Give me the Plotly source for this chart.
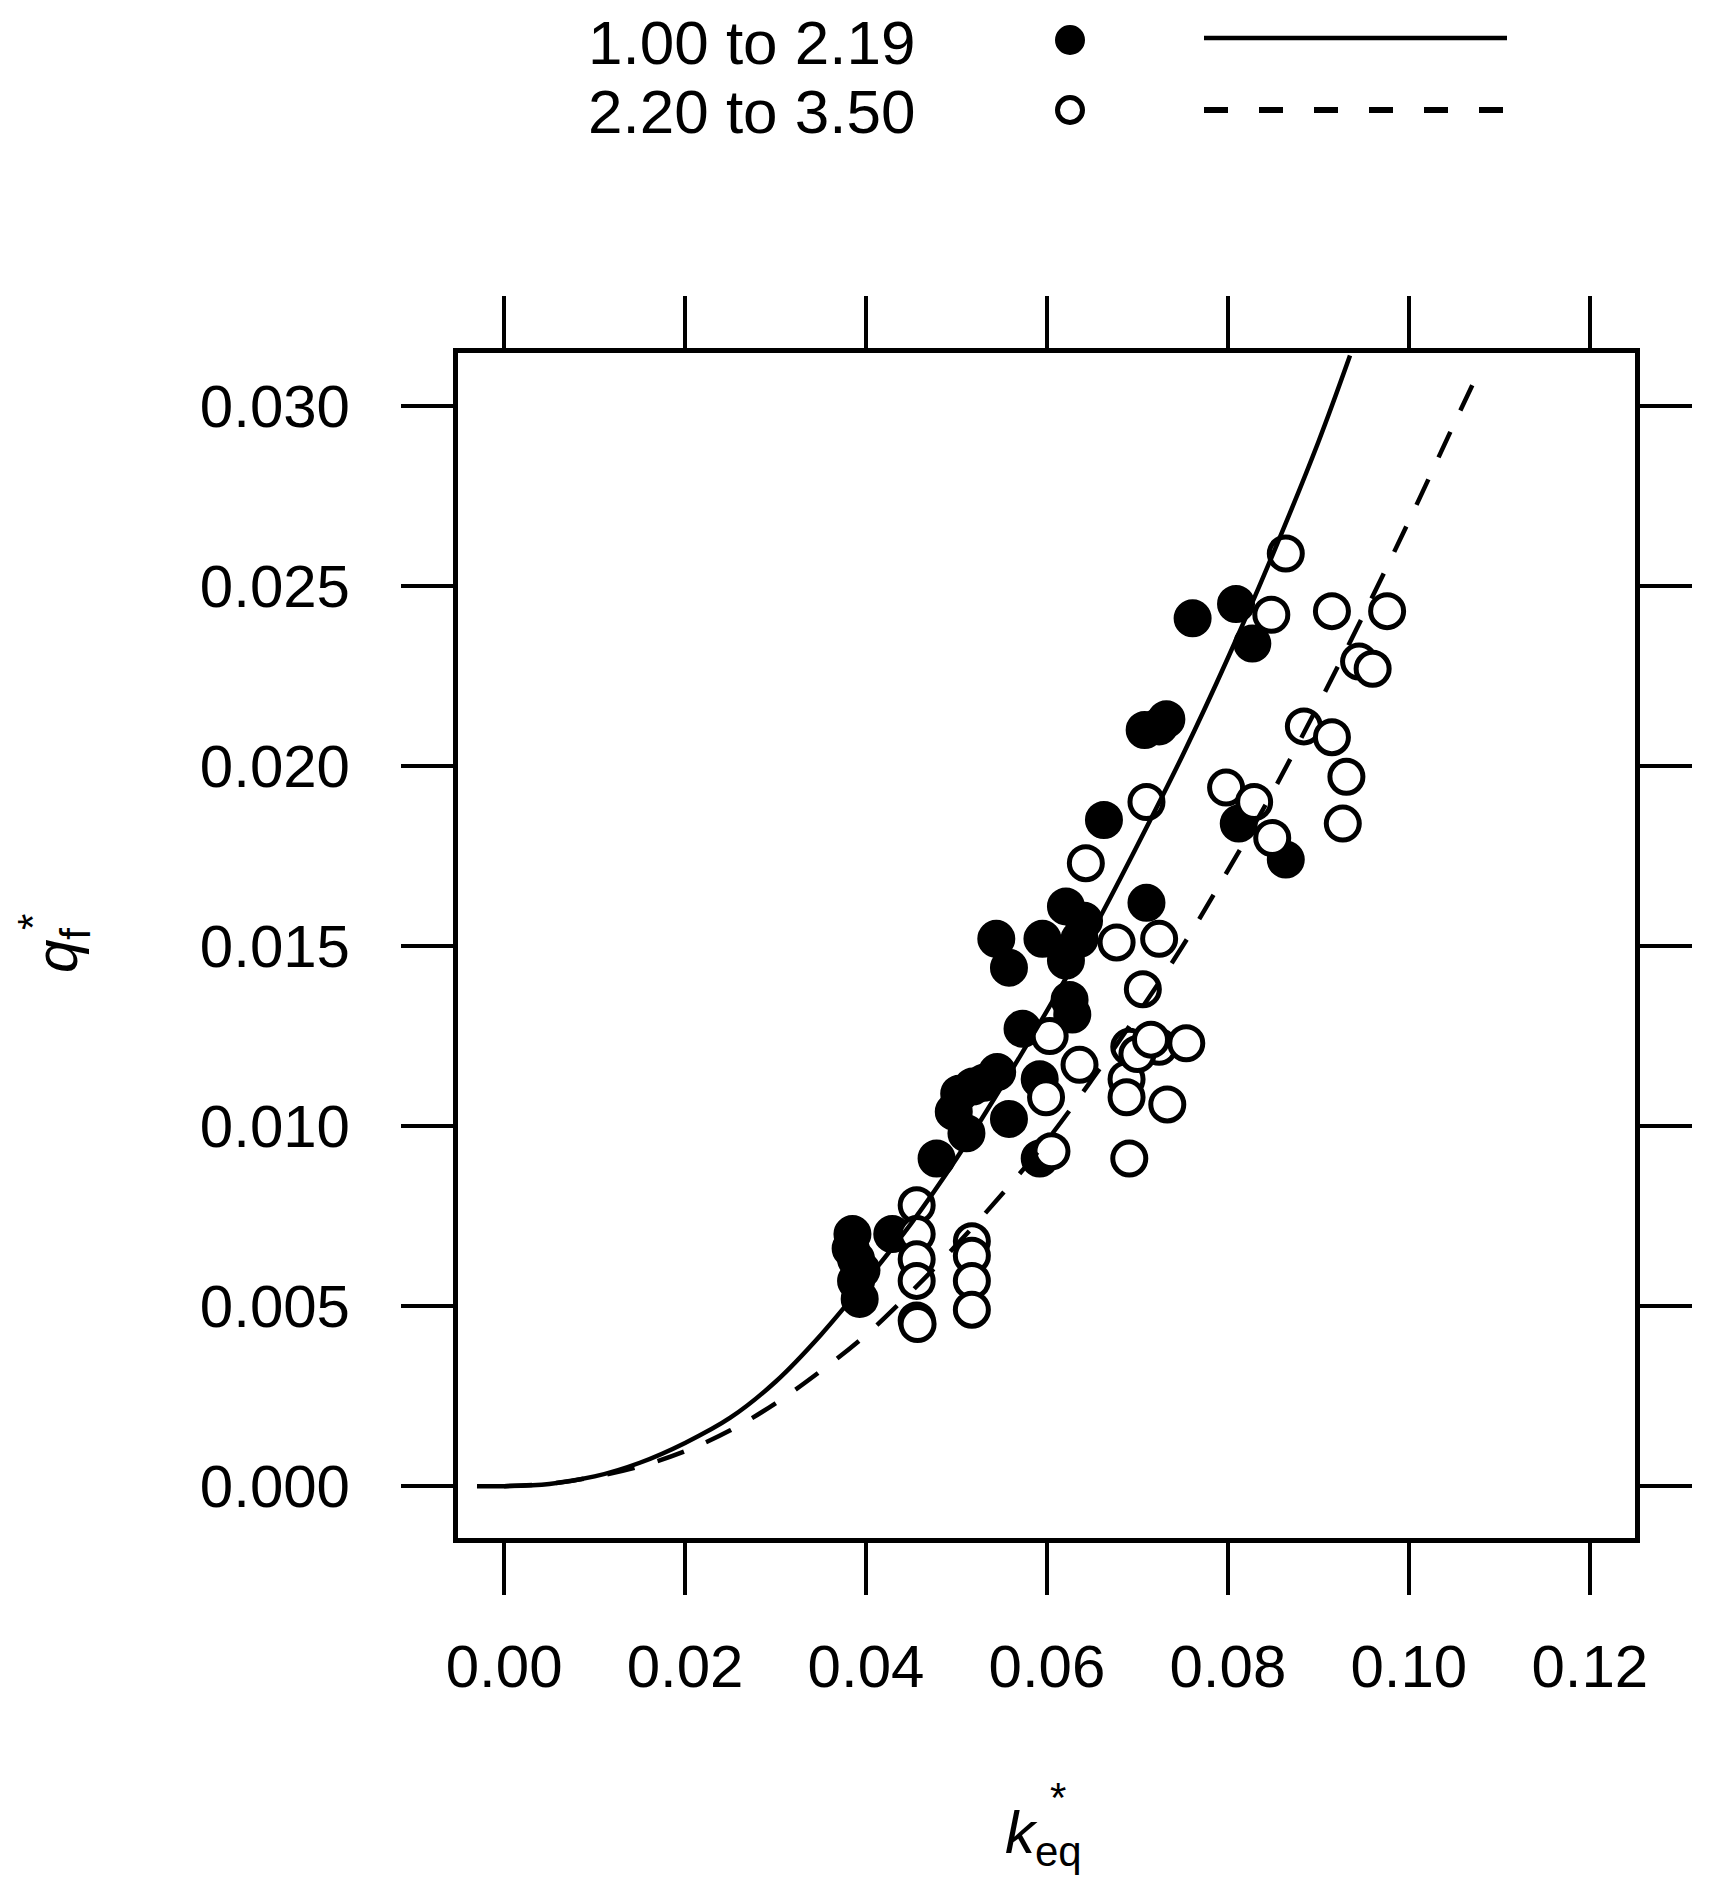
import plotly.graph_objects as go

# ---------------- data ----------------
filled_k = [0.0383, 0.0385, 0.0389, 0.0389, 0.0393, 0.0395, 0.0429, 0.0478, 0.0497, 0.0503,
            0.0511, 0.0518, 0.0530, 0.0545, 0.0558, 0.0573, 0.0544, 0.0558, 0.0595, 0.0621,
            0.0641, 0.0621, 0.0625, 0.0628, 0.0636, 0.0592, 0.0592, 0.0663, 0.0710, 0.0708,
            0.0724, 0.0732, 0.0761, 0.0809, 0.0827, 0.0812, 0.0864]
filled_q = [0.0066, 0.0070, 0.0063, 0.0057, 0.0052, 0.0060, 0.0070, 0.0091, 0.0104, 0.0109,
            0.0098, 0.0111, 0.0112, 0.0115, 0.0102, 0.0127, 0.0152, 0.0144, 0.0152, 0.0161,
            0.0157, 0.0146, 0.0135, 0.0131, 0.0152, 0.0113, 0.0091, 0.0185, 0.0162, 0.0210,
            0.0211, 0.0213, 0.0241, 0.0245, 0.0234, 0.0184, 0.0174]

open_k = [0.0456, 0.0456, 0.0456, 0.0456, 0.0456, 0.0457, 0.0517, 0.0517, 0.0517, 0.0517,
          0.0603, 0.0599, 0.0605, 0.0636, 0.0643, 0.0677, 0.0724, 0.0706, 0.0710, 0.0691,
          0.0724, 0.0754, 0.0688, 0.0688, 0.0733, 0.0691, 0.0700, 0.0715, 0.0798, 0.0829,
          0.0849, 0.0864, 0.0848, 0.0915, 0.0976, 0.0945, 0.0960, 0.0884, 0.0915, 0.0931,
          0.0927]
open_q = [0.0078, 0.0070, 0.0063, 0.0057, 0.0046, 0.0045, 0.0068, 0.0064, 0.0057, 0.0049,
          0.0125, 0.0108, 0.0093, 0.0117, 0.0173, 0.0151, 0.0152, 0.0138, 0.0190, 0.0122,
          0.0122, 0.0123, 0.0113, 0.0108, 0.0106, 0.0091, 0.0120, 0.0124, 0.0194, 0.0190,
          0.0180, 0.0259, 0.0242, 0.0243, 0.0243, 0.0229, 0.0227, 0.0211, 0.0208, 0.0197,
          0.0184]

# fitted curves
solid_k = [-0.003, 0.000, 0.005, 0.010, 0.015, 0.020, 0.025, 0.030, 0.035, 0.040, 0.045,
           0.050, 0.055, 0.060, 0.065, 0.070, 0.075, 0.080, 0.085, 0.090, 0.0935]
solid_q = [0.0000, 0.0000, 0.00006, 0.00027, 0.00065, 0.0012, 0.0019, 0.0029, 0.0042, 0.0057,
           0.0073, 0.0091, 0.0111, 0.0132, 0.0154, 0.0178, 0.0203, 0.0230, 0.0259, 0.0290,
           0.0314]
dashed_k = [0.000, 0.005, 0.010, 0.015, 0.020, 0.025, 0.030, 0.035, 0.040, 0.045, 0.050,
            0.055, 0.060, 0.065, 0.070, 0.075, 0.080, 0.085, 0.090, 0.095, 0.100, 0.105,
            0.108]
dashed_q = [0.0000, 0.00007, 0.00026, 0.00055, 0.00097, 0.00155, 0.0023, 0.0032, 0.0042,
            0.0054, 0.0067, 0.0081, 0.0096, 0.0113, 0.0131, 0.0150, 0.0171, 0.0193, 0.0217,
            0.0242, 0.0268, 0.0295, 0.0311]

legend_labels = ["1.00 to 2.19", "2.20 to 3.50"]

x_ticks = [0.00, 0.02, 0.04, 0.06, 0.08, 0.10, 0.12]
x_tick_text = ["0.00", "0.02", "0.04", "0.06", "0.08", "0.10", "0.12"]
y_ticks = [0.000, 0.005, 0.010, 0.015, 0.020, 0.025, 0.030]
y_tick_text = ["0.000", "0.005", "0.010", "0.015", "0.020", "0.025", "0.030"]

# ---------------- layout geometry ----------------
# the page body adds an 8 px margin, so the figure is drawn 8 px in from the corner
OFF = 8
W, H = 1716 - 2 * OFF, 1902 - 2 * OFF
L = 458 - OFF                 # plot area left (screen 458)
T = 353 - OFF                 # plot area top (screen 353)
R = W - (1635 - OFF)          # plot area right (screen 1635)
B = H - (1538 - OFF)          # plot area bottom (screen 1538)
PW, PH = W - L - R, H - T - B


def px(x):  # screen x -> paper
    return (x - OFF - L) / PW


def py(y):  # screen y -> paper
    return (H - B - (y - OFF)) / PH


FONT = "Liberation Sans, Arial, sans-serif"

fig = go.Figure()
fig.add_trace(go.Scatter(
    x=filled_k, y=filled_q, mode="markers", showlegend=False,
    marker=dict(symbol="circle", size=36, color="black", line=dict(color="black", width=2))))
fig.add_trace(go.Scatter(
    x=open_k, y=open_q, mode="markers", showlegend=False,
    marker=dict(symbol="circle", size=33, color="white", line=dict(color="black", width=5))))
fig.add_trace(go.Scatter(
    x=solid_k, y=solid_q, mode="lines", showlegend=False,
    line=dict(color="black", width=4.5, shape="spline")))
fig.add_trace(go.Scatter(
    x=dashed_k, y=dashed_q, mode="lines", showlegend=False,
    line=dict(color="black", width=4.5, dash="28px,24px", shape="spline")))

axis_common = dict(
    showgrid=False, zeroline=False, showline=True, linewidth=5, linecolor="black",
    mirror="ticks", ticks="outside", ticklen=52, tickwidth=4, tickcolor="black",
    tickfont=dict(family=FONT, size=60, color="black"),
)
fig.update_xaxes(range=[-0.0051, 0.125], tickvals=x_ticks, ticktext=x_tick_text,
                 ticklabelstandoff=20, **axis_common)
fig.update_yaxes(range=[-0.00144, 0.03147], tickvals=y_ticks, ticktext=y_tick_text,
                 ticklabelstandoff=39, **axis_common)

annotations = [
    # axis titles
    dict(text="<i>k</i><sub>eq</sub>", x=px(1043), y=py(1837), xref="paper", yref="paper",
         showarrow=False, xanchor="center", yanchor="middle",
         font=dict(family=FONT, size=60, color="black")),
    dict(text="*", x=px(1058), y=py(1797), xref="paper", yref="paper",
         showarrow=False, xanchor="center", yanchor="middle",
         font=dict(family=FONT, size=42, color="black")),
    dict(text="<i>q</i><sub>f</sub>", x=px(61), y=py(951), xref="paper", yref="paper",
         showarrow=False, xanchor="center", yanchor="middle", textangle=-90,
         font=dict(family=FONT, size=60, color="black")),
    dict(text="*", x=px(32), y=py(922), xref="paper", yref="paper",
         showarrow=False, xanchor="center", yanchor="middle", textangle=-90,
         font=dict(family=FONT, size=42, color="black")),
]
# legend text
for lab, yy in zip(legend_labels, [42, 112]):
    annotations.append(dict(text=lab, x=px(918), y=py(yy), xref="paper", yref="paper",
                            showarrow=False, xanchor="right", yanchor="middle",
                            font=dict(family=FONT, size=62, color="black")))

shapes = [
    # legend markers
    dict(type="circle", xref="paper", yref="paper", xsizemode="pixel", ysizemode="pixel",
         xanchor=px(1070), yanchor=py(40), x0=-14, x1=14, y0=-14, y1=14,
         fillcolor="black", line=dict(color="black", width=2)),
    dict(type="circle", xref="paper", yref="paper", xsizemode="pixel", ysizemode="pixel",
         xanchor=px(1070), yanchor=py(110), x0=-12.5, x1=12.5, y0=-12.5, y1=12.5,
         fillcolor="white", line=dict(color="black", width=5)),
    # legend lines
    dict(type="line", xref="paper", yref="paper", x0=px(1204), x1=px(1507),
         y0=py(38), y1=py(38), line=dict(color="black", width=4.5)),
    dict(type="line", xref="paper", yref="paper", x0=px(1204), x1=px(1504),
         y0=py(110), y1=py(110), line=dict(color="black", width=6, dash="24px,31px")),
]

fig.update_layout(
    width=W, height=H,
    margin=dict(l=L, r=R, t=T, b=B, pad=0),
    paper_bgcolor="white", plot_bgcolor="white",
    font=dict(family=FONT, size=60, color="black"),
    annotations=annotations, shapes=shapes, showlegend=False,
)

fig.write_html("out.html")
